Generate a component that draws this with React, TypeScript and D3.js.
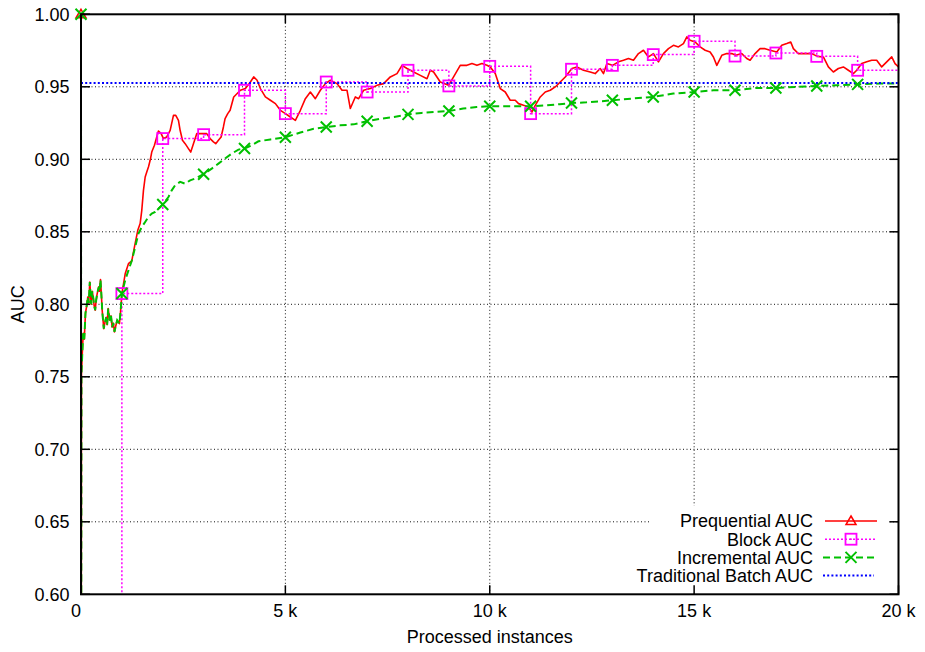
import React from 'react';
import * as d3 from 'd3';

// ---- axis ticks ----
const yTicks = [0.6, 0.65, 0.7, 0.75, 0.8, 0.85, 0.9, 0.95, 1.0];
const yTickLabels = ['0.60', '0.65', '0.70', '0.75', '0.80', '0.85', '0.90', '0.95', '1.00'];
const xTicks = [0, 5000, 10000, 15000, 20000];
const xTickLabels = ['0  ', '5 k', '10 k', '15 k', '20 k'];

// ---- series (instances, AUC) ----
// first 1k instances: prequential and incremental estimates coincide
const warmup: [number, number][] = [
  [0, 1.0], [6, 0.52], [12, 0.752], [30, 0.765], [54, 0.78], [80, 0.776], [110, 0.794], [140, 0.799],
  [166, 0.805], [190, 0.801], [215, 0.8154], [249, 0.8], [275, 0.809], [298, 0.805], [322, 0.799],
  [347, 0.796], [372, 0.803], [396, 0.8074], [435, 0.812], [455, 0.809], [477, 0.817], [498, 0.807],
  [518, 0.796], [557, 0.7832], [590, 0.788], [616, 0.791], [640, 0.786], [665, 0.797], [704, 0.789],
  [735, 0.792], [762, 0.7843], [790, 0.787], [819, 0.781], [850, 0.785], [885, 0.789], [941, 0.7867],
  [965, 0.794], [983, 0.8005], [1000, 0.8074],
];

const prequentialTail: [number, number][] = [
  [1081, 0.821], [1161, 0.828], [1242, 0.83], [1325, 0.842], [1389, 0.851], [1447, 0.8557],
  [1487, 0.8648], [1528, 0.8786], [1570, 0.8878], [1609, 0.8912], [1650, 0.8947], [1692, 0.8993],
  [1731, 0.905], [1797, 0.9097], [1853, 0.9154], [1895, 0.9195], [1961, 0.9177], [2017, 0.9143],
  [2098, 0.9154], [2181, 0.92], [2262, 0.9303], [2318, 0.9303], [2384, 0.9269], [2425, 0.92],
  [2482, 0.9131], [2548, 0.9108], [2628, 0.9074], [2685, 0.905], [2751, 0.9108], [2831, 0.9177],
  [2954, 0.9177], [3076, 0.9177], [3158, 0.9143], [3240, 0.912], [3296, 0.9108], [3362, 0.9131],
  [3428, 0.9154], [3484, 0.9223], [3525, 0.928], [3590, 0.9315], [3648, 0.9338], [3736, 0.943],
  [3900, 0.9476], [4022, 0.9488], [4144, 0.9533], [4225, 0.9568], [4308, 0.9545], [4389, 0.9488],
  [4511, 0.943], [4633, 0.9407], [4756, 0.9384], [4878, 0.9338], [5000, 0.9315], [5122, 0.9292],
  [5245, 0.9269], [5367, 0.9338], [5489, 0.9418], [5611, 0.9464], [5733, 0.9418], [5856, 0.9476],
  [5978, 0.9522], [6100, 0.9545], [6264, 0.9522], [6386, 0.9476], [6508, 0.9476], [6589, 0.935],
  [6711, 0.943], [6792, 0.9418], [6914, 0.9476], [7078, 0.9488], [7242, 0.951], [7403, 0.9522],
  [7567, 0.9568], [7731, 0.9591], [7853, 0.9648], [7976, 0.9626], [8137, 0.9602], [8301, 0.9579],
  [8465, 0.9556], [8545, 0.9614], [8626, 0.9602], [8790, 0.9533], [8993, 0.951], [9115, 0.9568],
  [9278, 0.9648], [9442, 0.9648], [9565, 0.966], [9687, 0.9648], [9809, 0.966], [9932, 0.9648],
  [10012, 0.9637], [10135, 0.9591], [10257, 0.9488], [10379, 0.9464], [10501, 0.9407],
  [10624, 0.9407], [10704, 0.9384], [10826, 0.9372], [10949, 0.9361], [11032, 0.9326],
  [11113, 0.9372], [11235, 0.943], [11358, 0.9464], [11480, 0.9476], [11602, 0.9499],
  [11724, 0.9533], [11847, 0.9568], [12010, 0.9626], [12132, 0.9637], [12293, 0.9614],
  [12457, 0.9602], [12580, 0.9591], [12702, 0.9626], [12783, 0.9591], [12866, 0.966],
  [13003, 0.9648], [13149, 0.9672], [13271, 0.9683], [13394, 0.9695], [13516, 0.9683],
  [13638, 0.9729], [13760, 0.9752], [13883, 0.9706], [14005, 0.9729], [14127, 0.9672],
  [14249, 0.9729], [14372, 0.9763], [14494, 0.9786], [14616, 0.9775], [14738, 0.9798],
  [14822, 0.9844], [14902, 0.9821], [15024, 0.9809], [15147, 0.9775], [15269, 0.9752],
  [15391, 0.974], [15472, 0.9706], [15555, 0.9648], [15677, 0.9717], [15799, 0.9729],
  [15921, 0.9729], [16019, 0.9717], [16166, 0.9729], [16288, 0.9695], [16369, 0.9683],
  [16491, 0.9729], [16613, 0.9763], [16736, 0.9763], [16858, 0.9752], [17022, 0.974],
  [17144, 0.9786], [17267, 0.9798], [17364, 0.9809], [17428, 0.9763], [17550, 0.9729],
  [17714, 0.9729], [17878, 0.9729], [18015, 0.971], [18162, 0.9706], [18284, 0.9637],
  [18406, 0.9602], [18528, 0.9626], [18651, 0.9637], [18773, 0.9614], [18895, 0.9591],
  [18978, 0.9614], [19100, 0.966], [19223, 0.9672], [19345, 0.9683], [19467, 0.9683],
  [19589, 0.9637], [19712, 0.9672], [19834, 0.9706], [19915, 0.966], [20000, 0.9637],
];

const incrementalTail: [number, number][] = [
  [1081, 0.8166], [1161, 0.8234], [1242, 0.83], [1325, 0.8395], [1406, 0.8488], [1487, 0.8533],
  [1570, 0.8568], [1650, 0.8602], [1731, 0.8626], [1814, 0.8637], [1895, 0.866], [2000, 0.8688],
  [2139, 0.874], [2220, 0.8786], [2303, 0.8821], [2425, 0.8844], [2548, 0.8832], [2670, 0.8855],
  [2792, 0.8867], [3000, 0.8897], [3198, 0.8936], [3362, 0.897], [3525, 0.9005], [3687, 0.9039],
  [3851, 0.9067], [4000, 0.9074], [4176, 0.9097], [4340, 0.9124], [4633, 0.9137], [5000, 0.9152],
  [5367, 0.9185], [5692, 0.921], [6000, 0.9223], [6340, 0.9234], [6670, 0.9241], [7000, 0.9262],
  [7330, 0.928], [7660, 0.9292], [8000, 0.931], [8330, 0.932], [8660, 0.9326], [9000, 0.9333],
  [9350, 0.935], [9680, 0.936], [10000, 0.9366], [10330, 0.9366], [10660, 0.9366], [11000, 0.9366],
  [11380, 0.9372], [11710, 0.938], [12000, 0.9388], [12370, 0.9393], [12700, 0.94], [13000, 0.9407],
  [13450, 0.9418], [14000, 0.943], [14490, 0.9453], [15000, 0.9464], [15470, 0.9476], [16000, 0.9476],
  [16530, 0.9492], [17000, 0.9492], [17490, 0.9499], [18000, 0.9506], [18470, 0.951], [19000, 0.9517],
  [19530, 0.9522], [20000, 0.9522],
];

// block AUC: one value per 1k block, held until the next block
const blockStarts = [0, 1000, 2000, 3000, 4000, 5000, 6000, 7000, 8000, 9000, 10000,
  11000, 12000, 13000, 14000, 15000, 16000, 17000, 18000, 19000, 20000];
const blockAuc = [0.5, 0.8074, 0.9143, 0.917, 0.9476, 0.9315, 0.9533, 0.9464, 0.9614, 0.9506, 0.9641,
  0.9315, 0.9621, 0.9648, 0.9722, 0.9814, 0.9712, 0.9733, 0.971, 0.9614, 0.9614];

const batchAuc = 0.9526;

const legendLabels = ['Prequential AUC', 'Block AUC', 'Incremental AUC', 'Traditional Batch AUC'];

const W = 925;
const H = 652;
const RED = '#ff0000';
const MAGENTA = '#ff00ff';
const GREEN = '#00c000';
const BLUE = '#0000ff';
const FONT = '"Liberation Sans", Arial, Helvetica, sans-serif';

const x = d3.scaleLinear().domain([0, 20000]).range([81, 898.5]);
const y = d3.scaleLinear().domain([0.6, 1.0]).range([594.3, 14.3]);

const line = d3.line<[number, number]>().x(d => x(d[0])).y(d => y(d[1]));
const stepLine = d3.line<[number, number]>().x(d => x(d[0])).y(d => y(d[1])).curve(d3.curveStepAfter);

const prequential = [...warmup, ...prequentialTail];
const incremental = [...warmup, ...incrementalTail];
const blocks: [number, number][] = blockStarts.map((s, i) => [s, blockAuc[i]]);

function Square({ cx, cy }: { cx: number; cy: number }) {
  return (
    <g>
      <rect x={cx - 5.5} y={cy - 5.5} width={11} height={11} fill="none" stroke={MAGENTA} strokeWidth={1.8} />
      <rect x={cx - 0.8} y={cy - 0.8} width={1.6} height={1.6} fill={MAGENTA} />
    </g>
  );
}

function Cross({ cx, cy }: { cx: number; cy: number }) {
  const r = 5.5;
  return (
    <path d={`M${cx - r},${cy - r}L${cx + r},${cy + r}M${cx - r},${cy + r}L${cx + r},${cy - r}`}
      stroke={GREEN} strokeWidth={2} fill="none" />
  );
}

function Triangle({ cx, cy }: { cx: number; cy: number }) {
  return (
    <path d={`M${cx},${cy - 5}L${cx + 5},${cy + 3.5}L${cx - 5},${cy + 3.5}Z`}
      stroke={RED} strokeWidth={1.5} fill="none" />
  );
}

export default function App() {
  const [x0, x1] = x.range();
  const [yb, yt] = y.range();
  const tickLen = 9;
  const legendRowY = (i: number) => 521 + i * 18.2;
  const legendTextX = 813;
  const sampleX0 = 825;
  const sampleX1 = 877;
  const sampleMid = 851;

  const crossPoints = incremental.filter(d => d[0] % 1000 === 0 && d[0] < 20000);
  const squarePoints = blocks.filter((d, i) => i > 0 && i < blocks.length - 1);

  return (
    <svg width={W} height={H} style={{ position: 'absolute', left: 0, top: 0, background: '#fff' }}
      fontFamily={FONT}>
      <defs>
        <clipPath id="plotArea">
          <rect x={x0} y={yt} width={x1 - x0} height={yb - yt} />
        </clipPath>
      </defs>
      <rect width={W} height={H} fill="#fff" />

      {/* grid */}
      <g stroke="#111" strokeWidth={1} strokeDasharray="1,2.5">
        {yTicks.slice(1, -1).map(t => (
          <line key={`gy${t}`} x1={x0} x2={x1} y1={y(t)} y2={y(t)} />
        ))}
        {xTicks.slice(1, -1).map(t => (
          <line key={`gx${t}`} x1={x(t)} x2={x(t)} y1={yb} y2={yt} />
        ))}
      </g>

      {/* legend backdrop */}
      <rect x={649} y={506} width={238} height={87} fill="#fff" />

      {/* series, in plotting order */}
      <g clipPath="url(#plotArea)" fill="none">
        <path d={line(prequential) || ''} stroke={RED} strokeWidth={1.6} strokeLinejoin="round" />
        <path d={stepLine(blocks) || ''} stroke={MAGENTA} strokeWidth={1.5} strokeDasharray="2,2" />
        <path d={line(incremental) || ''} stroke={GREEN} strokeWidth={2} strokeDasharray="7,4" />
        <line x1={x0} x2={x1} y1={y(batchAuc)} y2={y(batchAuc)} stroke={BLUE} strokeWidth={2} strokeDasharray="2,2.2" />
      </g>
      <g>
        <Triangle cx={x(prequential[0][0])} cy={y(prequential[0][1])} />
        {squarePoints.map(d => <Square key={`s${d[0]}`} cx={x(d[0])} cy={y(d[1])} />)}
        {crossPoints.map(d => <Cross key={`c${d[0]}`} cx={x(d[0])} cy={y(d[1])} />)}
      </g>

      {/* border and ticks */}
      <rect x={x0} y={yt} width={x1 - x0} height={yb - yt} fill="none" stroke="#000" strokeWidth={2} />
      <g stroke="#000" strokeWidth={1.5}>
        {yTicks.map(t => (
          <g key={`ty${t}`}>
            <line x1={x0} x2={x0 + tickLen} y1={y(t)} y2={y(t)} />
            <line x1={x1} x2={x1 - tickLen} y1={y(t)} y2={y(t)} />
          </g>
        ))}
        {xTicks.map(t => (
          <g key={`tx${t}`}>
            <line x1={x(t)} x2={x(t)} y1={yb} y2={yb - tickLen} />
            <line x1={x(t)} x2={x(t)} y1={yt} y2={yt + tickLen} />
          </g>
        ))}
      </g>

      {/* tick labels */}
      <g fontSize={18} fill="#000">
        {yTicks.map((t, i) => (
          <text key={`ly${t}`} x={69.5} y={y(t)} dy="0.35em" textAnchor="end">{yTickLabels[i]}</text>
        ))}
        {xTicks.map((t, i) => (
          <text key={`lx${t}`} x={x(t)} y={617} textAnchor="middle" style={{ whiteSpace: 'pre' }}>{xTickLabels[i]}</text>
        ))}
      </g>

      {/* axis titles */}
      <text x={(x0 + x1) / 2} y={643} fontSize={18} textAnchor="middle">Processed instances</text>
      <text transform={`translate(23.5, ${(yb + yt) / 2}) rotate(-90)`} fontSize={18} textAnchor="middle">AUC</text>

      {/* legend */}
      <g fontSize={18}>
        {legendLabels.map((lab, i) => (
          <text key={lab} x={legendTextX} y={legendRowY(i)} dy="0.35em" textAnchor="end">{lab}</text>
        ))}
        <line x1={sampleX0} x2={sampleX1} y1={legendRowY(0)} y2={legendRowY(0)} stroke={RED} strokeWidth={1.6} />
        <Triangle cx={sampleMid} cy={legendRowY(0)} />
        <line x1={sampleX0} x2={sampleX1 - 1} y1={legendRowY(1)} y2={legendRowY(1)} stroke={MAGENTA} strokeWidth={1.5} strokeDasharray="2,2" />
        <Square cx={sampleMid} cy={legendRowY(1)} />
        <line x1={sampleX0 - 2} x2={sampleX1} y1={legendRowY(2)} y2={legendRowY(2)} stroke={GREEN} strokeWidth={2} strokeDasharray="7,4" />
        <Cross cx={sampleMid} cy={legendRowY(2)} />
        <line x1={sampleX0 - 2} x2={sampleX1 - 3} y1={legendRowY(3)} y2={legendRowY(3)} stroke={BLUE} strokeWidth={2} strokeDasharray="2,2.2" />
      </g>
    </svg>
  );
}
